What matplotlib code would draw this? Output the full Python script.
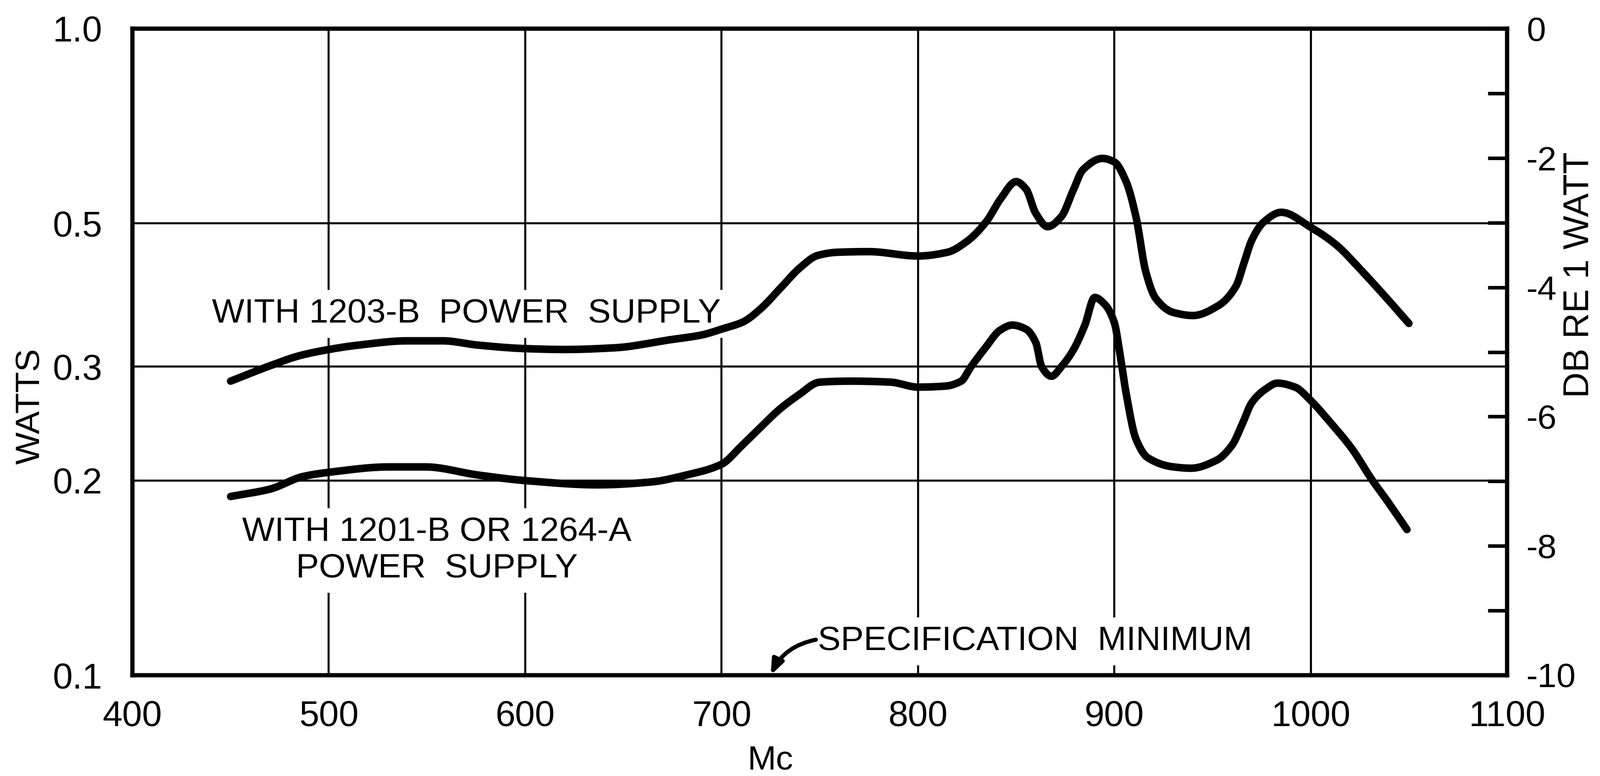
import matplotlib
matplotlib.use("Agg")
import matplotlib.pyplot as plt
import numpy as np

plt.rcParams['font.family'] = ['Liberation Sans', 'DejaVu Sans']

# ---- data ----
freq_1203 = [450, 470, 485, 500, 515, 540, 558, 576, 600, 620, 646, 673, 690, 700,
             711, 720, 730, 740, 749, 759, 775, 800, 815, 825, 835, 842, 850, 855,
             860, 866, 873, 879, 884, 894, 900, 906, 911, 916, 921, 930, 940, 953,
             962, 966, 970, 976, 985, 1000, 1013, 1026, 1039, 1050]
watts_1203 = [0.285, 0.301, 0.312, 0.319, 0.324, 0.329, 0.329, 0.324, 0.320, 0.319,
              0.321, 0.330, 0.336, 0.343, 0.352, 0.369, 0.397, 0.427, 0.446, 0.451,
              0.452, 0.445, 0.451, 0.469, 0.504, 0.545, 0.580, 0.565, 0.518, 0.494,
              0.512, 0.562, 0.605, 0.630, 0.622, 0.580, 0.512, 0.421, 0.383, 0.364,
              0.360, 0.373, 0.400, 0.434, 0.471, 0.502, 0.520, 0.493, 0.463, 0.422,
              0.382, 0.350]

freq_1201 = [450, 470, 487, 500, 531, 549, 576, 600, 637, 664, 682, 700, 710, 720,
             729, 739, 750, 766, 786, 800, 814, 822, 827, 834, 842, 848, 855, 860,
             863, 868, 873, 879, 885, 890, 895, 900, 903, 906, 911, 917, 930, 939,
             952, 960, 965, 970, 977, 983, 992, 1000, 1010, 1021, 1031, 1039, 1049]
watts_1201 = [0.189, 0.194, 0.203, 0.206, 0.210, 0.210, 0.204, 0.200, 0.197, 0.199,
              0.204, 0.212, 0.226, 0.242, 0.257, 0.271, 0.284, 0.285, 0.284, 0.279,
              0.280, 0.285, 0.300, 0.320, 0.342, 0.348, 0.343, 0.327, 0.300, 0.290,
              0.300, 0.318, 0.348, 0.384, 0.375, 0.351, 0.312, 0.273, 0.232, 0.217,
              0.210, 0.209, 0.215, 0.227, 0.244, 0.264, 0.277, 0.283, 0.279, 0.266,
              0.246, 0.224, 0.201, 0.186, 0.168]

x_ticks = [400, 500, 600, 700, 800, 900, 1000, 1100]
x_ticklabels = ["400", "500", "600", "700", "800", "900", "1000", "1100"]
y_ticks = [0.1, 0.2, 0.3, 0.5, 1.0]
y_ticklabels = ["0.1", "0.2", "0.3", "0.5", "1.0"]
db_ticks = list(range(-10, 1))
db_ticklabels = [str(v) if v % 2 == 0 else "" for v in db_ticks]

label_1203 = "WITH 1203-B  POWER  SUPPLY"
label_1201 = "WITH 1201-B OR 1264-A\nPOWER  SUPPLY"
label_spec = "SPECIFICATION  MINIMUM"


def pchip_draw(x, y, n=12):
    """Shape-preserving cubic drawing path through the read points (in log10 of y)."""
    x = np.asarray(x, float)
    v = np.log10(np.asarray(y, float))
    h = np.diff(x)
    d = np.diff(v) / h
    m = np.zeros_like(x)
    for k in range(1, len(x) - 1):
        if d[k - 1] * d[k] > 0:
            w1 = 2 * h[k] + h[k - 1]
            w2 = h[k] + 2 * h[k - 1]
            m[k] = (w1 + w2) / (w1 / d[k - 1] + w2 / d[k])
    m[0] = d[0]
    m[-1] = d[-1]
    xs, vs = [], []
    for k in range(len(x) - 1):
        t = np.linspace(0, 1, n, endpoint=False)
        h00 = 2 * t**3 - 3 * t**2 + 1
        h10 = t**3 - 2 * t**2 + t
        h01 = -2 * t**3 + 3 * t**2
        h11 = t**3 - t**2
        xs.append(x[k] + t * h[k])
        vs.append(h00 * v[k] + h10 * h[k] * m[k] + h01 * v[k + 1] + h11 * h[k] * m[k + 1])
    xs.append([x[-1]])
    vs.append([v[-1]])
    return np.concatenate(xs), 10 ** np.concatenate(vs)


# ---- figure ----
W, H, DPI = 3238, 1571, 200
fig = plt.figure(figsize=(W / DPI, H / DPI), dpi=DPI)
ax_l, ax_r, ax_t, ax_b = 268, 3050, 58, 1367
ax = fig.add_axes([ax_l / W, 1 - ax_b / H, (ax_r - ax_l) / W, (ax_b - ax_t) / H])

ax.set_yscale('log')
ax.set_xlim(400, 1100)
ax.set_ylim(0.1, 1.0)
ax.set_xticks(x_ticks)
ax.set_xticklabels(x_ticklabels)
ax.set_yticks(y_ticks)
ax.set_yticklabels(y_ticklabels)
ax.yaxis.set_minor_locator(matplotlib.ticker.NullLocator())
ax.tick_params(axis='both', length=0, labelsize=26)
ax.tick_params(axis='x', pad=18)
ax.tick_params(axis='y', pad=22)
ax.grid(True, color='black', linewidth=1.5)
ax.set_axisbelow(True)
for s in ax.spines.values():
    s.set_linewidth(3.0)

for fx, wy in ((freq_1203, watts_1203), (freq_1201, watts_1201)):
    sx, sy = pchip_draw(fx, wy)
    ax.plot(sx, sy, color='black', linewidth=5.5,
            solid_capstyle='round', solid_joinstyle='round', zorder=4)

box = dict(facecolor='white', edgecolor='none', pad=6)
ax.text(570, 0.362, label_1203, ha='center', va='center', fontsize=25,
        bbox=box, zorder=3)
ax.text(555, 0.156, label_1201, ha='center', va='center', fontsize=25,
        linespacing=1.2, bbox=box, zorder=3)
ax.text(749, 0.1128, label_spec, ha='left', va='center', fontsize=25,
        bbox=box, zorder=3)
ax.annotate("", xy=(725, 0.1), xytext=(748, 0.1135),
            arrowprops=dict(arrowstyle='-|>,head_length=0.9,head_width=0.35',
                            color='black', linewidth=3.0,
                            connectionstyle='arc3,rad=0.25',
                            shrinkA=0, shrinkB=0), zorder=3)


def fig_to_axes(px, py):
    return ((px - ax_l) / (ax_r - ax_l), (ax_b - py) / (ax_b - ax_t))


ax.set_xlabel("Mc", fontsize=25)
ax.xaxis.label.set_verticalalignment('center')
ax.xaxis.set_label_coords(*fig_to_axes(1559, 1540))
ax.set_ylabel("WATTS", fontsize=25)
ax.yaxis.label.set_verticalalignment('center')
ax.yaxis.set_label_coords(*fig_to_axes(62, 822))

ax2 = ax.twinx()
ax2.set_ylim(-10, 0)
ax2.set_yticks(db_ticks)
ax2.set_yticklabels(db_ticklabels)
ax2.tick_params(axis='y', direction='in', length=14, width=2.6,
                labelsize=25, pad=14)
for s in ax2.spines.values():
    s.set_linewidth(3.0)
ax2.set_ylabel("DB RE 1 WATT", fontsize=26)
ax2.yaxis.label.set_verticalalignment('center')
ax2.yaxis.set_label_coords(*fig_to_axes(3196, 556))

fig.savefig("out.png", dpi=DPI, facecolor='white')
